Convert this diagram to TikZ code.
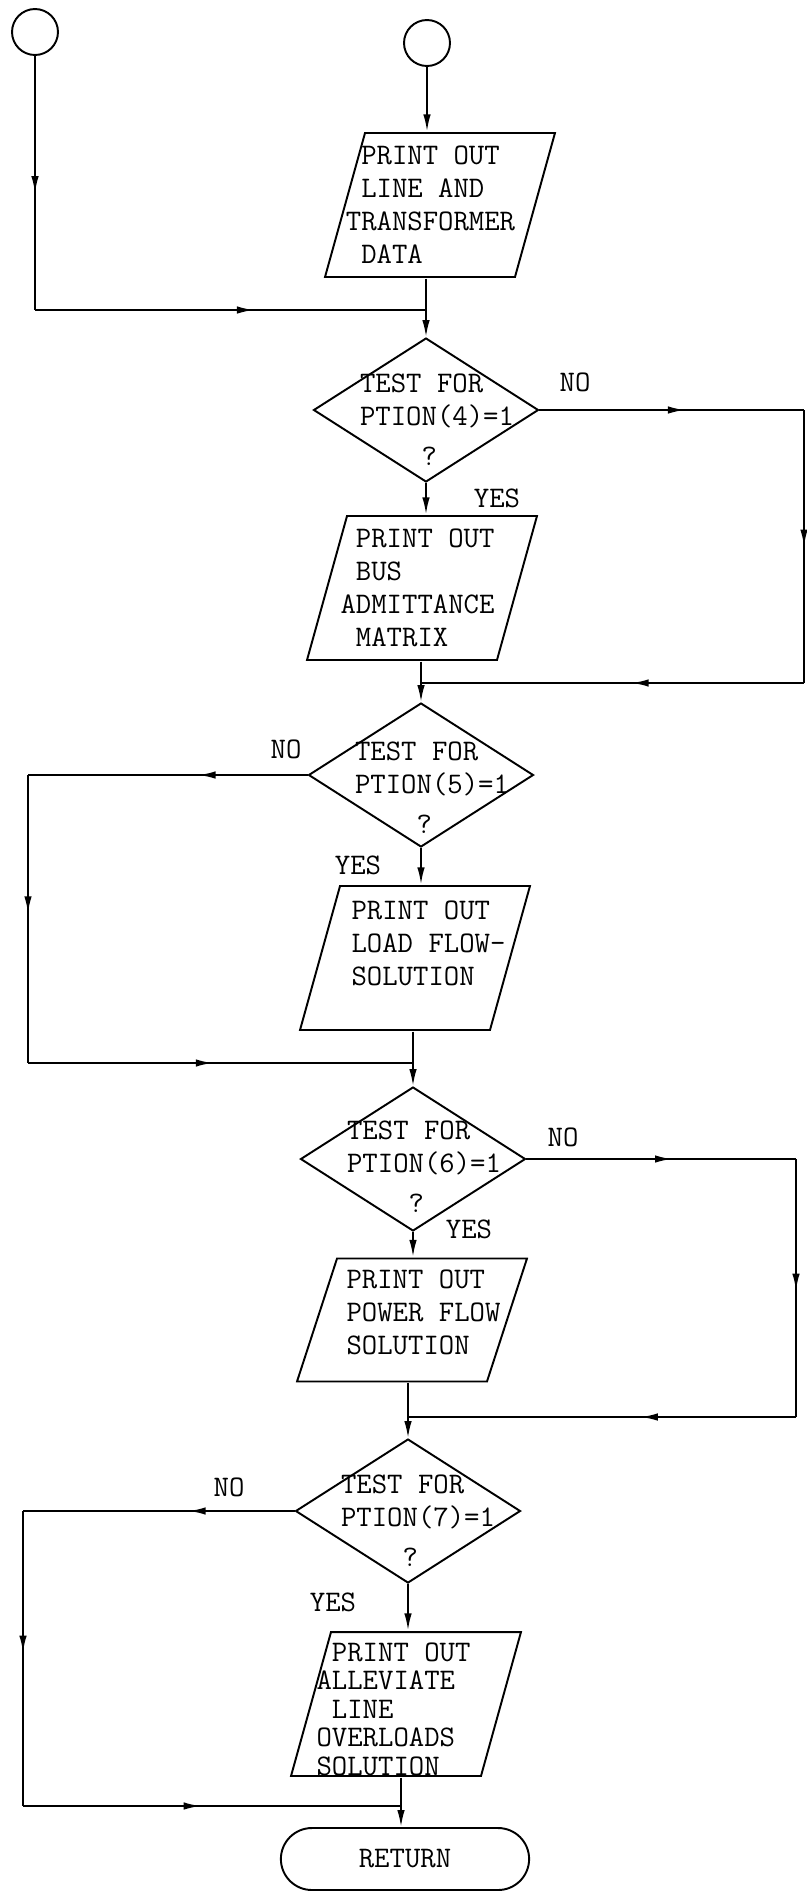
\documentclass[tikz,border=0pt]{standalone}
\usepackage{tikz}
\usetikzlibrary{arrows.meta,shapes.geometric,shapes.misc,decorations.markings}

\begin{document}
\begin{tikzpicture}[x=0.02cm,y=-0.02cm,>={Latex[length=0.34cm,width=0.15cm]}]
  \tikzset{
    every node/.style={font=\fontsize{17}{18.8}\selectfont\ttfamily},
    wire/.style={draw=black,line width=1.1pt},
    conn/.style={circle,draw,line width=1.1pt,minimum size=0.92cm,inner sep=0pt},
    io/.style={rectangle,minimum width=4.65cm,minimum height=2.93cm,inner sep=0pt,
      path picture={\draw[line width=1.1pt]
        ([shift={(0.025cm,0.025cm)}]path picture bounding box.south west) -- ++(3.8cm,0)
        -- ([shift={(-0.025cm,-0.025cm)}]path picture bounding box.north east) -- ++(-3.8cm,0) -- cycle;}},
    decide/.style={diamond,draw,line width=1.1pt,minimum width=4.5cm,
      minimum height=2.88cm,inner sep=2pt},
    term/.style={rounded rectangle,draw,line width=1.1pt,minimum width=5.2cm,minimum height=1.24cm},
    midarrow/.style={postaction={decorate},decoration={markings,
      mark=at position #1 with {\arrow{Latex[length=0.34cm,width=0.15cm]}}}},
  }
  \useasboundingbox (0,0) rectangle (807,1897);

  \coordinate (j1) at (426,310); \coordinate (r1) at (804,410);
  \coordinate (j2) at (421,683); \coordinate (l2) at (28,775);
  \coordinate (j3) at (413,1063); \coordinate (r3) at (796,1159);
  \coordinate (j4) at (408,1417); \coordinate (l4) at (23,1511);
  \coordinate (j5) at (401,1806);

  \node[conn] (c1) at (35,32) {}; \node[conn] (c2) at (427,43) {};
  \node[io,label={[align=left,xshift=-0.19cm]center:\ PRINT OUT\\\ LINE AND\\TRANSFORMER\\\ DATA}] (p1) at (440,205) {};
  \node[decide,label={[align=left,xshift=0.22cm,yshift=-0.2cm]center:TEST FOR\\PTION(4)=1\\[0.14cm]\ \ \ \ ?}] (d1) at (426,410) {\strut};
  \node[io,label={[align=left,xshift=-0.09cm]center:\ PRINT OUT\\\ BUS\\ADMITTANCE\\\ MATRIX}] (p2) at (422,588) {};
  \node[decide,label={[align=left,xshift=0.22cm,yshift=-0.25cm]center:TEST FOR\\PTION(5)=1\\[0.14cm]\ \ \ \ ?}] (d2) at (421,775) {\strut};
  \node[io,label={[align=left,xshift=0.27cm,yshift=0.3cm]center:PRINT OUT\\LOAD FLOW-\\SOLUTION}] (p3) at (415,958) {};
  \node[decide,label={[align=left,xshift=0.22cm,yshift=-0.15cm]center:TEST FOR\\PTION(6)=1\\[0.14cm]\ \ \ \ ?}] (d3) at (413,1159) {\strut};
  \node[io,minimum height=2.51cm,label={[align=left,xshift=0.23cm,yshift=0.15cm]center:PRINT OUT\\POWER FLOW\\SOLUTION}] (p4) at (412,1320) {};
  \node[decide,label={[align=left,xshift=0.2cm,yshift=-0.19cm]center:TEST FOR\\PTION(7)=1\\[0.14cm]\ \ \ \ ?}] (d4) at (408,1511) {\strut};
  \node[io,label={[align=left,xshift=-0.25cm,yshift=-0.1cm,font=\fontsize{17}{16.2}\selectfont\ttfamily]center:\ PRINT OUT\\ALLEVIATE\\\ LINE\\OVERLOADS\\SOLUTION}] (p5) at (406,1704) {};
  \node[term] (ret) at (405,1859) {RETURN};

  \node (no1) at (575,382) {NO}; \node (yes1) at (497,498) {YES};
  \node (no2) at (286,749) {NO}; \node (yes2) at (358,865) {YES};
  \node (no3) at (563,1137) {NO}; \node (yes3) at (469,1229) {YES};
  \node (no4) at (229,1487) {NO}; \node (yes4) at (333,1602) {YES};

  \draw[wire,midarrow=0.54] (c1) -- (c1 |- j1);
  \draw[wire,midarrow=0.56] (c1 |- j1) -- (j1);
  \draw[wire,->] (c2) -- (c2 |- p1.north);
  \draw[wire] (j1 |- p1.south) -- (j1);
  \draw[wire,->] (j1) -- (d1.north);
  \draw[wire,midarrow=0.55] (d1.east) -- (r1);
  \draw[wire,midarrow=0.5] (r1) -- (r1 |- j2);
  \draw[wire,midarrow=0.45] (r1 |- j2) -- (j2);
  \draw[wire,->] (d1.south) -- (d1.south |- p2.north);
  \draw[wire] (j2 |- p2.south) -- (j2);
  \draw[wire,->] (j2) -- (d2.north);

  \draw[wire,midarrow=0.39] (d2.west) -- (l2);
  \draw[wire,midarrow=0.48] (l2) -- (l2 |- j3);
  \draw[wire,midarrow=0.48] (l2 |- j3) -- (j3);
  \draw[wire,->] (d2.south) -- (d2.south |- p3.north);
  \draw[wire] (j3 |- p3.south) -- (j3);
  \draw[wire,->] (j3) -- (d3.north);

  \draw[wire,midarrow=0.54] (d3.east) -- (r3);
  \draw[wire,midarrow=0.51] (r3) -- (r3 |- j4);
  \draw[wire,midarrow=0.4] (r3 |- j4) -- (j4);
  \draw[wire,->] (d3.south) -- (d3.south |- p4.north);
  \draw[wire] (j4 |- p4.south) -- (j4);
  \draw[wire,->] (j4) -- (d4.north);

  \draw[wire,midarrow=0.39] (d4.west) -- (l4);
  \draw[wire,midarrow=0.48] (l4) -- (l4 |- j5);
  \draw[wire,midarrow=0.47] (l4 |- j5) -- (j5);
  \draw[wire,->] (d4.south) -- (d4.south |- p5.north);
  \draw[wire] (j5 |- p5.south) -- (j5);
  \draw[wire,->] (j5) -- (j5 |- ret.north);
\end{tikzpicture}
\end{document}
